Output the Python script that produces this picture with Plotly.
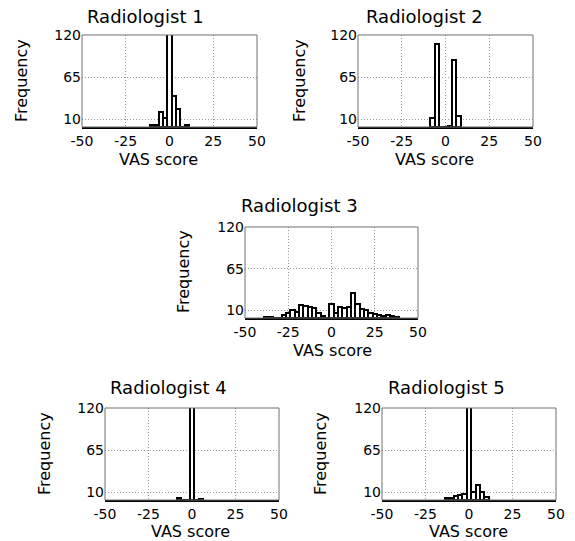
import plotly.graph_objects as go

# ---------------- data (bin centres in VAS units, counts) ----------------
titles = ["Radiologist 1", "Radiologist 2", "Radiologist 3", "Radiologist 4", "Radiologist 5"]

centers_1 = [-10, -7.5, -5, -2.5, 0, 2.5, 5, 7.5, 10]
counts_1 = [3, 3, 20, 12, 160, 40, 24, 0, 2]

centers_2 = [-7.5, -5, -2.5, 0, 2.5, 5, 7.5]
counts_2 = [12, 108, 0, 0, 1, 88, 15]

centers_3 = [-37.5, -35, -32.5, -30, -27.5, -25, -22.5, -20, -17.5, -15, -12.5, -10,
             -7.5, -5, -2.5, 0, 2.5, 5, 7.5, 10, 12.5, 15, 17.5, 20, 22.5, 25, 27.5,
             30, 32.5, 35, 37.5]
counts_3 = [1, 1, 0, 0, 4, 7, 11, 8, 17, 16, 15, 13,
            7, 3, 0, 19, 7, 15, 13, 14, 33, 18, 12, 11, 6, 5, 4,
            3, 4, 2, 1]

centers_4 = [-7.5, -5, -2.5, 0, 2.5, 5]
counts_4 = [3, 0, 0, 200, 0, 1]

centers_5 = [-12.5, -10, -7.5, -5, -2.5, 0, 2.5, 5, 7.5, 10]
counts_5 = [2, 3, 5, 6, 8, 150, 11, 19, 11, 4]

centers = [centers_1, centers_2, centers_3, centers_4, centers_5]
counts = [counts_1, counts_2, counts_3, counts_4, counts_5]

x_ticks = [-50, -25, 0, 25, 50]
y_ticks = [10, 65, 120]
bin_width = 2.5

# ---------------- layout geometry (pixels in a 575 x 541 page) ----------------
W, H = 575, 541
# axes boxes: left, right, top, bottom (px)
boxes = [(82, 257, 35, 127), (358, 533, 35, 127), (245, 418, 227, 318),
         (105, 279, 408, 500), (382, 556, 408, 500)]
title_pos = [(145, 17), (424, 17), (299, 206), (168, 387), (446, 387)]
xlab_pos = [(158, 160), (434, 160), (332, 350), (190, 531), (468, 531)]
ylab_pos = [(21, 81), (299, 81), (183, 272), (44, 454), (320, 454)]

FONT = "DejaVu Sans"

fig = go.Figure()
layout = dict(template="none", width=W, height=H, autosize=False,
              margin=dict(l=0, r=0, t=0, b=0, pad=0, autoexpand=False),
              paper_bgcolor="white", plot_bgcolor="white", showlegend=False,
              font=dict(family=FONT, size=14, color="black"))
annotations = []
shapes = []

for i in range(5):
    n = "" if i == 0 else str(i + 1)
    l, r, t, b = boxes[i]
    fig.add_trace(go.Bar(x=centers[i], y=counts[i], width=bin_width,
                         marker=dict(color="white", line=dict(color="black", width=2)),
                         xaxis="x" + n, yaxis="y" + n, hoverinfo="x+y"))
    layout["xaxis" + n] = dict(domain=[l / W, r / W], anchor="y" + n, range=[-50, 50],
                               automargin=False,
                               tickvals=x_ticks, ticktext=[str(v) for v in x_ticks],
                               showgrid=True, gridcolor="#9a9a9a", griddash="1px,2px", gridwidth=1,
                               zeroline=False, showline=True, linecolor="black", linewidth=2,
                               ticks="",
                               tickfont=dict(family=FONT, size=14), fixedrange=True)
    layout["yaxis" + n] = dict(domain=[1 - b / H, 1 - t / H], anchor="x" + n, range=[0, 120],
                               automargin=False,
                               tickvals=y_ticks, ticktext=[str(v) for v in y_ticks],
                               showgrid=True, gridcolor="#9a9a9a", griddash="1px,2px", gridwidth=1,
                               zeroline=False, showline=False, ticks="",
                               tickfont=dict(family=FONT, size=14), fixedrange=True)
    shapes.append(dict(type="rect", xref="x" + n + " domain", yref="y" + n + " domain",
                       x0=0, x1=1, y0=0, y1=1, line=dict(color="#707070", width=1),
                       layer="above"))
    tx, ty = title_pos[i]
    annotations.append(dict(text=titles[i], x=tx / W, y=1 - ty / H, xref="paper", yref="paper",
                            showarrow=False, xanchor="center", yanchor="middle",
                            font=dict(family=FONT, size=18)))
    xx, xy = xlab_pos[i]
    annotations.append(dict(text="VAS score", x=xx / W, y=1 - xy / H, xref="paper", yref="paper",
                            showarrow=False, xanchor="center", yanchor="middle",
                            font=dict(family=FONT, size=16)))
    yx, yy = ylab_pos[i]
    annotations.append(dict(text="Frequency", x=yx / W, y=1 - yy / H, xref="paper", yref="paper",
                            showarrow=False, xanchor="center", yanchor="middle", textangle=-90,
                            font=dict(family=FONT, size=16)))

layout["annotations"] = annotations
layout["shapes"] = shapes
layout["bargap"] = 0
fig.update_layout(**layout)
fig.write_html("out.html", config={"displayModeBar": False},
               post_script="document.body.style.margin='0';document.body.style.overflow='hidden';")
